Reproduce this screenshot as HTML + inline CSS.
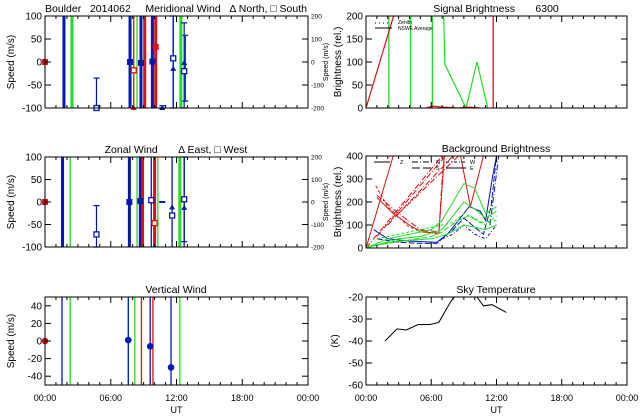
<!DOCTYPE html>
<html><head><meta charset="utf-8"><style>
html,body{margin:0;padding:0;background:#fff;}
svg{display:block;font-family:"Liberation Sans",sans-serif;}
text{white-space:pre;}
</style></head><body>
<svg id="c" width="640" height="420" viewBox="0 0 640 420" xmlns="http://www.w3.org/2000/svg"></svg>
<script>
// ---------- data ----------
const merLineTimes=[1.73,2.46,7.76,8.1,8.4,8.76,9.1,9.8,10.1,11.7,12.4];
const merLineColors=['#0018b4','#22dd22','#0018b4','#dd1111','#22dd22','#0018b4','#dd1111','#0018b4','#dd1111','#0018b4','#22dd22'];
const merLineThick=[1,1,1,0,0,1,1,1,1,0,1];
const merPtT=[0,4.7,7.76,8.76,9.8,8.1,10.1,11.7,11.7,12.7,12.7,10.7,8.1];
const merPtV=[0,-100,0,-2,1,-18,33,8,-15,-20,-2,-100,-100];
const merPtC=['#dd1111','#0018b4','#0018b4','#0018b4','#0018b4','#dd1111','#dd1111','#0018b4','#0018b4','#0018b4','#0018b4','#0018b4','#dd1111'];
const merPtS=['f','o','f','f','f','o','f','o','t','o','t','t','t'];
const merErrT=[4.7,11.7,12.7,12.8,10.7];
const merErrLo=[-100,-100,-100,-85,-100];
const merErrHi=[-35,100,85,58,-95];

const zonLineTimes=[1.6,2.3,7.7,8.4,8.7,8.9,9.7,10.0,10.3,11.6,12.3,12.7];
const zonLineColors=['#0018b4','#22dd22','#0018b4','#22dd22','#0018b4','#dd1111','#0018b4','#dd1111','#22dd22','#0018b4','#22dd22','#0018b4'];
const zonLineThick=[1,0,1,0,1,1,0,1,0,0,1,0];
const zonPtT=[0,4.7,7.7,8.7,9.7,10.0,11.6,11.6,12.7,12.7];
const zonPtV=[0,-72,0,2,4,-47,-12,-30,-13,6];
const zonPtC=['#dd1111','#0018b4','#0018b4','#0018b4','#0018b4','#dd1111','#0018b4','#0018b4','#0018b4','#0018b4'];
const zonPtS=['f','o','f','f','o','o','t','o','t','o'];
const zonErrT=[4.7,10.7,12.7];
const zonErrLo=[-100,-1,-88];
const zonErrHi=[-8,1,100];

const verLineTimes=[1.55,2.3,7.6,8.2,8.8,9.6,9.85,11.5,12.3];
const verLineColors=['#0018b4','#22dd22','#0018b4','#22dd22','#dd1111','#0018b4','#dd1111','#0018b4','#22dd22'];
const verPtT=[0,7.6,9.6,11.5];
const verPtV=[0,1,-6,-30];
const verPtC=['#dd1111','#0018b4','#0018b4','#0018b4'];

const sigGreenT=[2.1,4.1,6.1];
const sigGreenLineT=[7.1,7.2,7.25,9.2,10.2,11.2];
const sigGreenLineV=[230,150,95,0,100,0];
const sigRedT=[0,2.6];
const sigRedV=[0,205];
const sigRedBumpT=[5.5,6.2,7.0,8.5,9.5,10.5];
const sigRedBumpV=[0,4,2,0,2,0];
const sigRedVert=11.7;

const bgSeriesT=[
 [0,2.5],[1,3,5,6.7,7,7.2],[1,2.5,4,5,6.7,7.2],[0.9,2,4,6.5],[0,7],[1,7.3],[2,8],[3,8.5],
 [8.7,9.6,10.8],
 [0.7,2,4,6.5,7.5,8.5,9.5,10.5,11,11.6,12],[1,3,5,6.5,8,9,10,10.8,11.5,12],[7,8,9,10,11,12],[11.4,11.8,12.2],
 [0,2,4,6,7,8,9,10,11,12],[0,3,5,7,8,9,10,11,12],[0,2,4,6,7,8.5,9.5,10.5,12],[0.5,3,6,7.5,9,10,11,12],[1,4,6,7,8,9,10,11,12]
];
const bgSeriesV=[
 [0,400],[230,150,80,70,300,400],[220,150,100,70,65,400],[270,180,90,60],[0,400],[50,400],[100,400],[150,400],
 [400,180,400],
 [80,40,30,25,60,120,180,160,120,300,400],[40,25,20,20,80,130,90,60,180,400],[40,60,100,60,40,100],[100,250,400],
 [0,40,60,80,120,200,280,260,150,180],[0,40,50,80,140,200,170,130,160],[5,20,35,50,70,120,140,110,120],[10,30,40,60,100,90,80,100],[40,70,90,100,110,150,130,100,140]
];
const bgSeriesC=['r','r','r','r','r','r','r','r','r','b','b','b','b','g','g','g','g','g'];
const bgSeriesD=['','6 2 1 2','','3 2','6 2 1 2','6 2 1 2','6 2 1 2','6 2 1 2','','','6 2','3 2 1 2','6 2 1 2','','','6 2','','3 2'];

const skyT=[1.75,2.85,3.7,4.8,5.9,6.7,7.8,8.3];
const skyV=[-40,-34.5,-35,-32.5,-32.5,-31.5,-22,-19];
const sky2T=[10.0,10.2,10.8,11.6,12.9];
const sky2V=[-19,-20,-24,-23.5,-27];

const xTickLabels=['00:00','06:00','12:00','18:00','00:00'];
const merYTicks=[100,50,0,-50,-100];
const rightYTicks=[200,100,0,-100,-200];
const verYTicks=[40,20,0,-20,-40];
const sigYTicks=[200,150,100,50,0];
const bgYTicks=[400,300,200,100,0];
const skyYTicks=[-20,-30,-40,-50,-60];

// ---------- drawing ----------
const svg=document.getElementById('c');
const NS='http://www.w3.org/2000/svg';
function mk(tag,attrs,parent){const e=document.createElementNS(NS,tag);for(const k in attrs)e.setAttribute(k,attrs[k]);(parent||svg).appendChild(e);return e;}
function panel(name,x0,x1,y0,y1,ymin,ymax){
  const g=mk('g',{});
  
  
  return {g,x0,x1,y0,y1,sx:t=>x0+t/24*(x1-x0),sy:v=>y1-(v-ymin)/(ymax-ymin)*(y1-y0)};
}
function frame(p,yt,ymin,ymax,showX,ylabel,title,tx,ylx){
  const r=mk('rect',{x:p.x0,y:p.y0,width:p.x1-p.x0,height:p.y1-p.y0,fill:'none',stroke:'#000','stroke-width':1},p.g);
  
  
  for(let h=0;h<=24;h++){const x=p.sx(h);const L=h%6==0?6:3;
    mk('line',{x1:x,x2:x,y1:p.y1,y2:p.y1-L,stroke:'#000'},p.g);
    mk('line',{x1:x,x2:x,y1:p.y0,y2:p.y0+L,stroke:'#000'},p.g);}
  yt.forEach(v=>{const y=p.sy(v);
    mk('line',{x1:p.x0,x2:p.x0+6,y1:y,y2:y,stroke:'#000'},p.g);
    mk('line',{x1:p.x1,x2:p.x1-6,y1:y,y2:y,stroke:'#000'},p.g);
    const t=mk('text',{x:p.x0-3,y:y+3.5,'font-size':10,'text-anchor':'end'},p.g);t.textContent=String(v);
    
    
  });
  const yl=mk('text',{x:0,y:0,'font-size':10,'text-anchor':'middle',transform:`translate(${p.x0-ylx},${(p.y0+p.y1)/2}) rotate(-90)`},p.g);
  yl.textContent=ylabel;
  
  
  const tt=mk('text',{x:tx,y:p.y0-4,'font-size':10.5,'text-anchor':'middle'},p.g);
  tt.textContent=title;
  
  
  if(showX){
    xTickLabels.forEach((s,i)=>{const t=mk('text',{x:p.sx(i*6),y:p.y1+16,'font-size':9,'text-anchor':'middle'},p.g);t.textContent=s;
      
      });
    const u=mk('text',{x:(p.x0+p.x1)/2,y:p.y1+28,'font-size':9,'text-anchor':'middle'},p.g);u.textContent='UT';
    
    
  }
}
function rightAxis(p){
  rightYTicks.forEach((v,i)=>{const y=p.y0+i*(p.y1-p.y0)/4;
    const t=mk('text',{x:p.x1+3,y:y+2.5,'font-size':6.5},p.g);t.textContent=String(v);
    
    });
  const yl=mk('text',{x:0,y:0,'font-size':7,'text-anchor':'middle',transform:`translate(${p.x1+20},${(p.y0+p.y1)/2}) rotate(-90)`},p.g);
  yl.textContent='Speed (m/s)';
  
  
}
function vlines(p,ts,cs,th){ts.forEach((t,i)=>{const x=p.sx(t);
  const l=mk('line',{x1:x,x2:x,y1:p.y0,y2:p.y1,stroke:cs[i],'stroke-width':th&&th[i]?3:1.3},p.g);
  
  });}
function points(p,ts,vs,cs,ss){ts.forEach((t,i)=>{const x=p.sx(t),y=p.sy(vs[i]);let e;
  if(ss[i]=='f')e=mk('rect',{x:x-3,y:y-3,width:6,height:6,fill:cs[i]},p.g);
  else if(ss[i]=='o')e=mk('rect',{x:x-2.5,y:y-2.5,width:5,height:5,fill:'#fff',stroke:cs[i],'stroke-width':1.3},p.g);
  else e=mk('polygon',{points:`${x},${y-3} ${x-3},${y+2} ${x+3},${y+2}`,fill:cs[i]},p.g);
  
  });}
function errs(p,ts,lo,hi){ts.forEach((t,i)=>{const x=p.sx(t),a=p.sy(lo[i]),b=p.sy(hi[i]);
  const e=mk('path',{d:`M${x},${a}V${b}M${x-3},${a}H${x+3}M${x-3},${b}H${x+3}`,stroke:'#0018b4','stroke-width':1.2,fill:'none'},p.g);
  
  });}
function poly(p,ts,vs,col,dash,w,clip){const pts=ts.map((t,i)=>p.sx(t)+','+p.sy(vs[i])).join(' ');
  const e=mk('polyline',{points:pts,fill:'none',stroke:col,'stroke-width':w||1,'stroke-dasharray':dash||'none','clip-path':clip||'none'},p.g);
  
  return e;}

// Panel 1 Meridional
const p1=panel('meridional-wind-panel',45,308,16,108,-100,100);
vlines(p1,merLineTimes,merLineColors,merLineThick);errs(p1,merErrT,merErrLo,merErrHi);points(p1,merPtT,merPtV,merPtC,merPtS);
frame(p1,merYTicks,-100,100,false,'Speed (m/s)','Boulder   2014062     Meridional Wind   \u0394 North, \u25A1 South',176,31);rightAxis(p1);
// Panel 2 Zonal
const p2=panel('zonal-wind-panel',45,308,157,247,-100,100);
vlines(p2,zonLineTimes,zonLineColors,zonLineThick);errs(p2,zonErrT,zonErrLo,zonErrHi);points(p2,zonPtT,zonPtV,zonPtC,zonPtS);
frame(p2,merYTicks,-100,100,false,'Speed (m/s)','Zonal Wind       \u0394 East, \u25A1 West',176,31);rightAxis(p2);
// Panel 3 Vertical
const p3=panel('vertical-wind-panel',45,308,297,385,-50,50);
vlines(p3,verLineTimes,verLineColors,null);
verPtT.forEach((t,i)=>{const c=mk('circle',{cx:p3.sx(t),cy:p3.sy(verPtV[i]),r:3.3,fill:verPtC[i]},p3.g);
  
  });
frame(p3,verYTicks,-50,50,true,'Speed (m/s)','Vertical Wind',176,31);

// clip paths
const defs=mk('defs',{});
[['c4',366,16,261,92],['c5',366,156,261,92],['c6',366,297,261,88]].forEach(a=>{const cp=mk('clipPath',{id:a[0]},defs);mk('rect',{x:a[1],y:a[2],width:a[3],height:a[4]},cp);});

// Panel 4 Signal
const p4=panel('signal-brightness-panel',366,627,16,108,0,200);
sigGreenT.forEach(t=>{const x=p4.sx(t);const l=mk('line',{x1:x,x2:x,y1:p4.y0,y2:p4.y1,stroke:'#22dd22','stroke-width':1.3},p4.g);
  
  });
poly(p4,sigGreenLineT,sigGreenLineV,'#22dd22','',1.2,'url(#c4)');
poly(p4,sigRedT,sigRedV,'#dd1111','',1.2,'url(#c4)');
poly(p4,sigRedBumpT,sigRedBumpV,'#dd1111','',1.2,'url(#c4)');
{const x=p4.sx(sigRedVert);const l=mk('line',{x1:x,x2:x,y1:p4.y0,y2:p4.y1,stroke:'#dd1111','stroke-width':1.3},p4.g);
 
 }
mk('line',{x1:375,x2:392,y1:23,y2:23,stroke:'#000','stroke-dasharray':'1 3'},p4.g);
mk('line',{x1:375,x2:392,y1:28,y2:28,stroke:'#000'},p4.g);
[['Zenith',23],['NSWE Average',29]].forEach(a=>{const t=mk('text',{x:398,y:a[1]+1,'font-size':5},p4.g);t.textContent=a[0];
  
  });
frame(p4,sigYTicks,0,200,false,'Brightness (rel.)','Signal Brightness       6300',496,25);

// Panel 5 Background
const p5=panel('background-brightness-panel',366,627,156,248,0,400);
const colMap={r:'#dd1111',b:'#0018b4',g:'#22dd22'};
bgSeriesT.forEach((ts,i)=>poly(p5,ts,bgSeriesV[i],colMap[bgSeriesC[i]],bgSeriesD[i],1,'url(#c5)'));
[[374,390,'',162,'Z',400],[412,432,'6 2 1 2',162,'N',436],[412,432,'8 3',168,'S',436],[446,466,'3 2 1 2',162,'W',470],[446,466,'',168,'E',470]].forEach(a=>{
  mk('line',{x1:a[0],x2:a[1],y1:a[3],y2:a[3],stroke:'#000','stroke-dasharray':a[2]||'none'},p5.g);
  const t=mk('text',{x:a[5],y:a[3]+2,'font-size':5.5},p5.g);t.textContent=a[4];
  
  });
frame(p5,bgYTicks,0,400,false,'Brightness (rel.)','Background Brightness',496,25);

// Panel 6 Sky temperature
const p6=panel('sky-temperature-panel',366,627,297,385,-60,-20);
poly(p6,skyT,skyV,'#000','',1,'url(#c6)');
poly(p6,sky2T,sky2V,'#000','',1,'url(#c6)');
frame(p6,skyYTicks,-60,-20,true,'(K)','Sky Temperature',496,28);
</script>
</body></html>
